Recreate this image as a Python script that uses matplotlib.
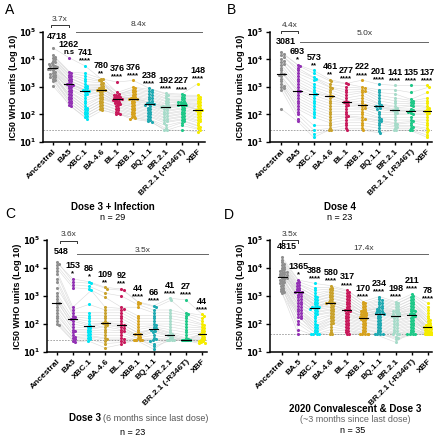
import matplotlib
matplotlib.use("Agg")
import matplotlib.pyplot as plt
import numpy as np

plt.rcParams["font.family"] = ["Liberation Sans", "DejaVu Sans"]

VARIANTS = ["Ancestral", "BA5", "XBC.1", "BA.4.6", "BL.1", "XBB.1",
            "BQ.1.1", "BR.2.1", "BR.2.1 (-R346T)", "XBF"]
VARIANTS_D = ["Ancestral", "BA.5", "XBC.1", "BA.4.6", "BL.1", "XBB.1",
              "BQ.1.1", "BR.2.1", "BR.2.1 (-R346T)", "XBF"]
COLORS = ["#8f8f8f", "#9332b4", "#00e6f5", "#c9a22c", "#c81a5c", "#d6a21e",
          "#1fa9b1", "#a6dbc9", "#1fc888", "#f5ec00"]

# log10 IC50 per subject (one list per variant)
a_vals = [
    [4.43, 4.15, 4.1, 4.05, 4.0, 3.95, 3.9, 3.88, 3.85, 3.8, 3.78, 3.75, 3.72, 3.7, 3.68,
     3.67, 3.65, 3.6, 3.55, 3.5, 3.48, 3.45, 3.4, 3.38, 3.35, 3.3, 3.25, 3.2, 3.05],
    [4.07, 3.55, 3.5, 3.45, 3.4, 3.35, 3.3, 3.25, 3.2, 3.15, 3.12, 3.1, 3.08, 3.05, 3.0,
     2.95, 2.9, 2.85, 2.8, 2.75, 2.7, 2.65, 2.6, 2.55, 2.5, 2.45, 2.4, 2.35, 2.3],
    [3.77, 3.5, 3.4, 3.3, 3.2, 3.1, 3.05, 3.0, 2.95, 2.9, 2.88, 2.87, 2.85, 2.8, 2.75,
     2.7, 2.6, 2.5, 2.4, 2.3, 2.25, 2.2, 2.15, 2.1, 2.05, 2.0, 1.95, 1.9, 1.85],
    [3.3, 3.28, 3.25, 3.2, 3.15, 3.1, 3.05, 3.0, 2.98, 2.95, 2.92, 2.9, 2.89, 2.88, 2.85,
     2.8, 2.75, 2.7, 2.65, 2.6, 2.55, 2.5, 2.45, 2.4, 2.35, 2.3, 2.25, 2.2, 2.15],
    [3.18, 2.8, 2.75, 2.72, 2.7, 2.68, 2.65, 2.63, 2.6, 2.59, 2.58, 2.57, 2.55, 2.52, 2.5,
     2.48, 2.45, 2.42, 2.4, 2.38, 2.35, 2.3, 2.25, 2.2, 2.15, 2.1, 2.05, 2.02, 2.0],
    [3.24, 3.0, 2.95, 2.9, 2.85, 2.8, 2.75, 2.7, 2.65, 2.62, 2.6, 2.58, 2.57, 2.55, 2.5,
     2.45, 2.4, 2.35, 2.3, 2.25, 2.2, 2.15, 2.1, 2.05, 2.0, 1.95, 1.9, 1.88, 1.85],
    [2.95, 2.9, 2.85, 2.8, 2.75, 2.7, 2.65, 2.6, 2.55, 2.5, 2.45, 2.42, 2.4, 2.38, 2.37,
     2.35, 2.3, 2.25, 2.2, 2.15, 2.1, 2.05, 2.0, 1.95, 1.9, 1.85, 1.8, 1.77, 1.73],
    [2.77, 2.72, 2.68, 2.6, 2.55, 2.5, 2.45, 2.4, 2.35, 2.32, 2.3, 2.28, 2.27, 2.25, 2.2,
     2.15, 2.1, 2.05, 2.0, 1.95, 1.9, 1.85, 1.8, 1.75, 1.7, 1.6, 1.5, 1.43, 1.43],
    [2.74, 2.7, 2.65, 2.6, 2.55, 2.5, 2.47, 2.45, 2.42, 2.4, 2.38, 2.36, 2.35, 2.33, 2.3,
     2.25, 2.2, 2.15, 2.1, 2.05, 2.0, 1.95, 1.9, 1.85, 1.8, 1.75, 1.7, 1.6, 1.43],
    [3.12, 2.7, 2.65, 2.6, 2.55, 2.5, 2.45, 2.4, 2.35, 2.3, 2.25, 2.2, 2.18, 2.17, 2.15,
     2.1, 2.05, 2.0, 1.95, 1.9, 1.85, 1.8, 1.75, 1.7, 1.6, 1.55, 1.5, 1.45, 1.38],
]
a_med = [4718, 1262, 741, 780, 376, 376, 238, 192, 227, 148]
a_sig = ["", "n.s", "****", "**", "****", "****", "****", "****", "****", "****"]

b_vals = [
    [4.26, 4.2, 4.15, 4.1, 4.0, 3.95, 3.9, 3.85, 3.8, 3.7, 3.6, 3.5, 3.49, 3.45, 3.4,
     3.3, 3.2, 3.1, 3.05, 3.0, 2.95, 2.9, 2.2],
    [3.81, 3.75, 3.7, 3.6, 3.5, 3.4, 3.3, 3.2, 3.1, 3.0, 2.9, 2.84, 2.8, 2.7, 2.6,
     2.5, 2.4, 2.3, 2.2, 2.1, 2.0, 1.85, 1.75],
    [3.6, 3.5, 3.35, 3.3, 3.25, 3.1, 3.0, 2.9, 2.8, 2.76, 2.7, 2.6, 2.5, 2.4, 2.3,
     2.2, 2.1, 2.0, 1.9, 1.6, 1.43, 1.3, 1.17],
    [3.27, 3.2, 3.1, 3.0, 2.95, 2.9, 2.8, 2.7, 2.66, 2.6, 2.5, 2.4, 2.3, 2.2, 2.1,
     2.0, 1.9, 1.8, 1.7, 1.6, 1.5, 1.43, 1.43],
    [3.13, 3.1, 3.0, 2.9, 2.8, 2.7, 2.6, 2.5, 2.45, 2.44, 2.4, 2.35, 2.3, 2.2, 2.1,
     2.0, 1.95, 1.9, 1.8, 1.7, 1.6, 1.5, 1.43],
    [3.25, 3.0, 2.95, 2.9, 2.85, 2.8, 2.7, 2.6, 2.5, 2.4, 2.35, 2.3, 2.25, 2.2, 2.1,
     2.0, 1.9, 1.85, 1.8, 1.7, 1.6, 1.5, 1.43],
    [3.1, 2.9, 2.8, 2.7, 2.6, 2.5, 2.4, 2.35, 2.32, 2.3, 2.25, 2.2, 2.1, 2.0, 1.9,
     1.85, 1.8, 1.75, 1.7, 1.6, 1.5, 1.4, 1.33],
    [3.06, 2.9, 2.75, 2.6, 2.5, 2.4, 2.3, 2.25, 2.2, 2.15, 2.15, 2.1, 2.05, 2.0, 1.9,
     1.8, 1.7, 1.65, 1.6, 1.55, 1.5, 1.43, 1.43],
    [3.06, 2.8, 2.55, 2.5, 2.45, 2.4, 2.35, 2.3, 2.2, 2.15, 2.13, 2.1, 2.05, 2.0, 1.9,
     1.8, 1.75, 1.7, 1.6, 1.55, 1.5, 1.43, 1.43],
    [3.06, 3.0, 2.8, 2.6, 2.5, 2.4, 2.3, 2.25, 2.2, 2.15, 2.14, 2.1, 2.05, 2.0, 1.9,
     1.8, 1.7, 1.6, 1.5, 1.43, 1.35, 1.25, 1.17],
]
b_med = [3081, 693, 573, 461, 277, 222, 201, 141, 135, 137]
b_sig = ["", "*", "**", "**", "****", "****", "****", "****", "****", "****"]

c_vals = [
    [4.2, 4.15, 4.1, 4.0, 3.9, 3.8, 3.6, 3.5, 3.3, 3.1, 3.0, 2.9, 2.8, 2.74, 2.7,
     2.6, 2.5, 2.4, 2.3, 2.2, 2.1, 2.0, 1.96],
    [3.61, 3.5, 3.4, 3.3, 2.6, 2.5, 2.4, 2.3, 2.25, 2.2, 2.18, 2.1, 2.0, 1.9, 1.8,
     1.75, 1.7, 1.6, 1.55, 1.5, 1.45, 1.4, 1.35],
    [3.51, 3.45, 3.35, 3.25, 3.2, 2.7, 2.4, 2.3, 2.2, 2.1, 2.0, 1.93, 1.9, 1.85, 1.8,
     1.75, 1.7, 1.65, 1.6, 1.55, 1.5, 1.45, 1.4],
    [3.31, 3.25, 3.1, 2.95, 2.6, 2.5, 2.4, 2.3, 2.2, 2.1, 2.05, 2.04, 2.0, 1.95, 1.9,
     1.8, 1.7, 1.6, 1.5, 1.45, 1.4, 1.3, 1.15],
    [3.25, 3.2, 3.0, 2.6, 2.55, 2.5, 2.4, 2.3, 2.2, 2.1, 2.0, 1.96, 1.9, 1.85, 1.8,
     1.75, 1.7, 1.6, 1.5, 1.45, 1.4, 1.35, 1.27],
    [2.8, 2.75, 2.7, 2.6, 2.3, 2.2, 2.1, 2.0, 1.9, 1.8, 1.7, 1.65, 1.64, 1.6, 1.55,
     1.5, 1.45, 1.43, 1.43, 1.43, 1.43, 1.43, 1.43],
    [2.65, 2.6, 2.5, 2.4, 2.3, 2.2, 2.1, 2.0, 1.95, 1.9, 1.85, 1.82, 1.8, 1.75, 1.7,
     1.6, 1.5, 1.45, 1.43, 1.4, 1.3, 1.2, 1.1],
    [2.92, 2.85, 2.5, 2.4, 2.3, 2.2, 2.1, 2.0, 1.9, 1.8, 1.7, 1.65, 1.61, 1.6, 1.55,
     1.5, 1.45, 1.43, 1.43, 1.43, 1.43, 1.43, 1.43],
    [2.86, 2.4, 2.35, 2.3, 2.2, 2.1, 2.0, 1.9, 1.8, 1.7, 1.6, 1.5, 1.45, 1.43, 1.43,
     1.43, 1.43, 1.43, 1.43, 1.43, 1.43, 1.43, 1.43],
    [2.35, 2.3, 2.2, 2.1, 2.0, 1.95, 1.9, 1.85, 1.8, 1.75, 1.7, 1.65, 1.64, 1.6, 1.55,
     1.5, 1.45, 1.43, 1.4, 1.38, 1.35, 1.33, 1.31],
]
c_med = [548, 153, 86, 109, 92, 44, 66, 41, 27, 44]
c_sig = ["", "*", "*", "**", "***", "****", "****", "****", "****", "****"]

d_vals = [
    [4.38, 4.3, 4.2, 4.15, 4.1, 4.05, 4.0, 3.95, 3.92, 3.9, 3.87, 3.85, 3.82, 3.8, 3.77,
     3.75, 3.72, 3.7, 3.68, 3.66, 3.63, 3.6, 3.57, 3.55, 3.5, 3.47, 3.45, 3.4, 3.35, 3.3,
     3.25, 3.2, 3.17, 3.13, 3.1],
    [3.57, 3.5, 3.45, 3.4, 3.35, 3.3, 3.25, 3.2, 3.17, 3.15, 3.14, 3.12, 3.1, 3.05, 3.0,
     2.95, 2.9, 2.85, 2.8, 2.75, 2.7, 2.65, 2.6, 2.55, 2.5, 2.45, 2.4, 2.35, 2.3, 2.25,
     2.2, 2.1, 2.0, 1.8, 1.63],
    [3.45, 3.3, 3.2, 3.1, 3.0, 2.95, 2.9, 2.85, 2.8, 2.75, 2.7, 2.65, 2.62, 2.6, 2.59,
     2.57, 2.55, 2.5, 2.45, 2.4, 2.35, 2.3, 2.2, 2.1, 2.0, 1.95, 1.9, 1.85, 1.8, 1.75,
     1.7, 1.65, 1.63, 1.63, 1.63],
    [3.37, 3.3, 3.25, 3.2, 3.15, 3.1, 3.05, 3.0, 2.95, 2.9, 2.85, 2.8, 2.78, 2.76, 2.75,
     2.7, 2.65, 2.6, 2.55, 2.5, 2.45, 2.4, 2.35, 2.3, 2.25, 2.2, 2.15, 2.1, 2.05, 2.0,
     1.9, 1.8, 1.7, 1.63, 1.63],
    [3.21, 3.15, 3.1, 3.05, 3.0, 2.95, 2.9, 2.85, 2.8, 2.75, 2.7, 2.65, 2.6, 2.55, 2.52,
     2.5, 2.48, 2.45, 2.4, 2.35, 2.3, 2.25, 2.2, 2.15, 2.1, 2.05, 2.0, 1.95, 1.9, 1.85,
     1.8, 1.75, 1.7, 1.63, 1.63],
    [2.8, 2.75, 2.7, 2.65, 2.6, 2.55, 2.5, 2.47, 2.45, 2.42, 2.4, 2.37, 2.35, 2.32, 2.3,
     2.27, 2.25, 2.23, 2.2, 2.17, 2.15, 2.1, 2.05, 2.0, 1.95, 1.9, 1.85, 1.8, 1.75, 1.7,
     1.65, 1.63, 1.63, 1.63, 1.63],
    [2.98, 2.9, 2.85, 2.8, 2.75, 2.7, 2.65, 2.6, 2.57, 2.55, 2.5, 2.47, 2.45, 2.42, 2.4,
     2.38, 2.37, 2.35, 2.3, 2.25, 2.2, 2.15, 2.1, 2.05, 2.0, 1.95, 1.9, 1.85, 1.8, 1.75,
     1.7, 1.65, 1.63, 1.63, 1.63],
    [2.8, 2.75, 2.7, 2.65, 2.6, 2.55, 2.5, 2.47, 2.45, 2.42, 2.4, 2.37, 2.35, 2.32, 2.3,
     2.28, 2.25, 2.2, 2.15, 2.1, 2.05, 2.0, 1.95, 1.9, 1.85, 1.8, 1.75, 1.7, 1.65, 1.63,
     1.63, 1.55, 1.5, 1.45, 1.35],
    [3.07, 3.0, 2.95, 2.9, 2.85, 2.8, 2.75, 2.7, 2.65, 2.6, 2.55, 2.5, 2.47, 2.45, 2.4,
     2.37, 2.35, 2.32, 2.3, 2.25, 2.2, 2.15, 2.1, 2.05, 2.0, 1.95, 1.9, 1.85, 1.8, 1.75,
     1.7, 1.65, 1.63, 1.63, 1.63],
    [2.74, 2.6, 2.5, 2.4, 2.3, 2.2, 2.15, 2.1, 2.05, 2.0, 1.97, 1.95, 1.92, 1.9, 1.89,
     1.87, 1.85, 1.82, 1.8, 1.78, 1.75, 1.72, 1.7, 1.68, 1.66, 1.65, 1.63, 1.63, 1.63,
     1.63, 1.63, 1.63, 1.63, 1.63, 1.63],
]
d_med = [4815, 1365, 388, 580, 317, 170, 234, 198, 211, 78]
d_sig = ["", "*", "****", "****", "****", "****", "****", "****", "****", "****"]

lod = [27, 27, 26, 43]
folds = [("3.7x", "8.4x"), ("4.4x", "5.0x"), ("3.6x", "3.5x"), ("3.5x", "17.4x")]


def swarm(logv, px_dec, px_cat, d=2.2, maxw=4.5):
    """narrow beeswarm: x offsets (category units), dots may overlap a bit"""
    ypx = np.array(logv) * px_dec
    placed = []
    offs = np.zeros(len(ypx))
    cands = [0.0]
    step = 1.1
    m = 1
    while m * step <= maxw:
        cands += [m * step, -m * step]
        m += 1
    for k in np.argsort(-ypx):
        y = ypx[k]
        best = None
        for c in cands:
            if all((px - c) ** 2 + (py - y) ** 2 >= d ** 2 for px, py in placed):
                best = c
                break
        if best is None:
            best = cands[len(placed) % len(cands)]
        placed.append((best, y))
        offs[k] = best / px_cat
    return offs


def draw_panel(ax, vals, med, sig, labels, lod_val, fold, xlim, br, px_dec):
    logs = [np.array(v) for v in vals]
    x = np.arange(len(vals))
    ax.set_yscale("log")
    ax.set_ylim(10, 1e5)
    ax.set_xlim(*xlim)
    px_cat = 16.2
    xs = [i + swarm(lv, px_dec, px_cat) for i, lv in enumerate(logs)]
    ys = [np.power(10.0, lv) for lv in logs]
    # paired lines between the same subject
    X = np.array(xs)
    Y = np.array(ys)
    for j in range(Y.shape[1]):
        ax.plot(X[:, j], Y[:, j], color="#d9d9d9", lw=0.4, zorder=1)
    for i in range(len(ys)):
        ax.scatter(xs[i], ys[i], s=5, color=COLORS[i], lw=0, zorder=2)
        ax.plot([i - 0.28, i + 0.28], [med[i], med[i]], color="black", lw=0.8, zorder=3)
        top = ys[i].max()
        if sig[i]:
            ax.annotate(sig[i], (i, top), xytext=(0, 3.5), textcoords="offset points",
                        ha="center", va="center", fontsize=5.5, fontweight="bold")
            ax.annotate(str(med[i]), (i, top), xytext=(0, 9.5), textcoords="offset points",
                        ha="center", va="center", fontsize=6.5, fontweight="bold")
        else:
            ax.annotate(str(med[i]), (i, top), xytext=(3, 8), textcoords="offset points",
                        ha="center", va="center", fontsize=6.5, fontweight="bold")
    ax.axhline(lod_val, color="#999999", lw=0.6, ls=(0, (2, 1.5)), zorder=1)

    # fold-change brackets
    bx0, bx1, by, bty, lx0, lx1, ly, lty = br
    ax.plot([bx0, bx0, bx1, bx1], [10 ** (by - 0.08), 10 ** by, 10 ** by, 10 ** (by - 0.08)],
            color="#333333", lw=0.7, clip_on=False)
    ax.text((bx0 + bx1) / 2, 10 ** bty, fold[0], ha="center", va="center", fontsize=6,
            color="#333333")
    ax.plot([lx0, lx1], [10 ** ly, 10 ** ly], color="#666666", lw=0.7, clip_on=False)
    ax.text((lx0 + lx1) / 2, 10 ** lty, fold[1], ha="center", va="center", fontsize=6,
            color="#333333")

    for s in ["top", "right"]:
        ax.spines[s].set_visible(False)
    for s in ["left", "bottom"]:
        ax.spines[s].set_linewidth(1.1)
    ax.set_yticks([10, 1e2, 1e3, 1e4, 1e5])
    ax.set_yticklabels([r"$\mathbf{10^{%d}}$" % k for k in range(1, 6)], fontsize=6)
    ax.yaxis.set_minor_locator(matplotlib.ticker.NullLocator())
    ax.tick_params(axis="y", length=3, width=1, pad=1.5)
    ax.set_xticks(x)
    ax.set_xticklabels(labels, rotation=45, ha="right", rotation_mode="anchor",
                       fontsize=6, fontweight="bold")
    ax.tick_params(axis="x", length=2.5, width=1, pad=1.5)
    ax.set_ylabel("IC50 WHO units (Log 10)", fontsize=6.5, fontweight="bold", labelpad=1)


fig = plt.figure(figsize=(4.4, 4.36), dpi=100)

W, H = 440.0, 436.0
ax_a = fig.add_axes([43 / W, 1 - 142 / H, 162 / W, 110 / H])
ax_b = fig.add_axes([270 / W, 1 - 142 / H, 162 / W, 110 / H])
ax_c = fig.add_axes([47 / W, 1 - 352 / H, 160 / W, 112 / H])
ax_d = fig.add_axes([270 / W, 1 - 352 / H, 162 / W, 112 / H])

draw_panel(ax_a, a_vals, a_med, a_sig, VARIANTS, lod[0], folds[0], (-0.6, 9.45),
           (-0.1, 1.0, 5.25, 5.44, 1.42, 9.26, 5.0, 5.29), 27.5)
draw_panel(ax_b, b_vals, b_med, b_sig, VARIANTS, lod[1], folds[1], (-0.7, 9.3),
           (0.0, 1.05, 5.04, 5.22, 1.17, 9.07, 4.64, 4.93), 27.5)
draw_panel(ax_c, c_vals, c_med, c_sig, VARIANTS, lod[2], folds[2], (-0.6, 9.3),
           (0.19, 1.24, 4.96, 5.18, 1.24, 9.38, 4.5, 4.64), 28)
draw_panel(ax_d, d_vals, d_med, d_sig, VARIANTS_D, lod[3], folds[3], (-0.75, 9.25),
           (0.0, 0.99, 4.99, 5.18, 1.05, 9.0, 4.5, 4.68), 28)


def ft(x, y, s, **kw):
    fig.text(x / W, 1 - y / H, s, **kw)


ft(5, 10, "A", fontsize=10, va="center")
ft(227, 10, "B", fontsize=10, va="center")
ft(5, 214, "C", fontsize=10, va="center")
ft(224, 215, "D", fontsize=10, va="center")

ft(113, 207, "Dose 3 + Infection", fontsize=7, fontweight="bold", ha="center", va="center")
ft(113, 217, "n = 29", fontsize=6.5, ha="center", va="center")
ft(340, 207, "Dose 4", fontsize=7, fontweight="bold", ha="center", va="center")
ft(340, 217, "n = 23", fontsize=6.5, ha="center", va="center")

ft(101, 418, "Dose 3", fontsize=7, fontweight="bold", ha="right", va="center")
ft(103, 418, "(6 months since last dose)", fontsize=6.5, color="#555555", ha="left", va="center")
ft(133, 432, "n = 23", fontsize=6.5, ha="center", va="center")

ft(355, 409, "2020 Convalescent & Dose 3", fontsize=7, fontweight="bold", ha="center", va="center")
ft(355, 419, "(~3 months since last dose)", fontsize=6.5, color="#666666", ha="center", va="center")
ft(353, 430, "n = 35", fontsize=6.5, ha="center", va="center")

fig.savefig("out.png", dpi=100)
